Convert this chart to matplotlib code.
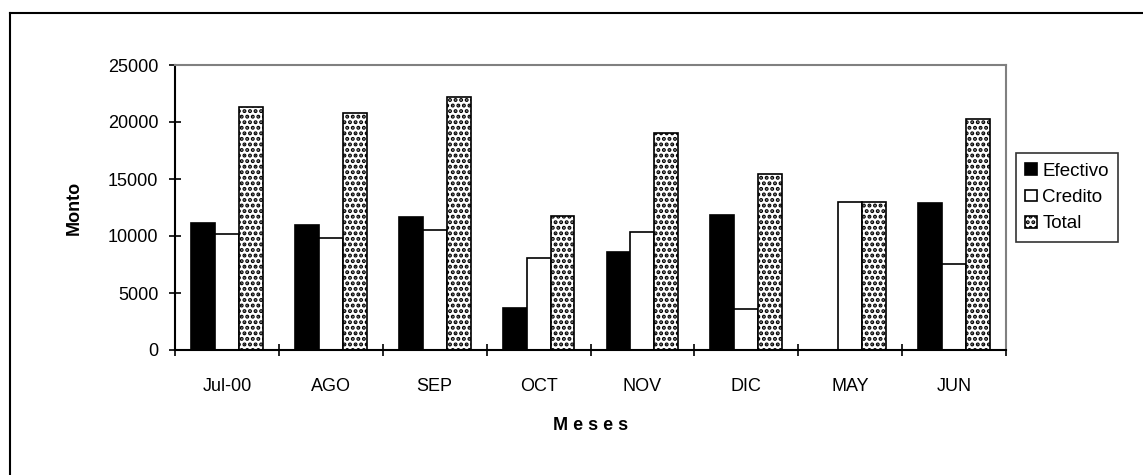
import numpy as np
import matplotlib.pyplot as plt
from matplotlib.lines import Line2D

plt.rcParams['font.family'] = ['Liberation Sans', 'DejaVu Sans']
plt.rcParams['hatch.linewidth'] = 2.0

meses = ["Jul-00", "AGO", "SEP", "OCT", "NOV", "DIC", "MAY", "JUN"]
efectivo = [11100, 10930, 11640, 3700, 8600, 11810, 0, 12870]
credito = [10160, 9810, 10520, 8050, 10370, 3640, 13010, 7550]
total = [21300, 20800, 22180, 11780, 19040, 15480, 13010, 20280]

fig = plt.figure(figsize=(11.43, 4.75), dpi=100)
ax = fig.add_axes([175 / 1143, 1 - 350 / 475, 831 / 1143, 285 / 475])

x = np.arange(len(meses))
w = 0.23
ax.bar(x - w, efectivo, w, color="black", edgecolor="black", linewidth=1.2, label="Efectivo")
ax.bar(x, credito, w, color="white", edgecolor="black", linewidth=1.2, label="Credito")
ax.bar(x + w, total, w, color="white", edgecolor="black", linewidth=1.2,
       hatch="...", label="Total")

ax.set_xlim(-0.5, len(meses) - 0.5)
ax.set_ylim(0, 25000)
ax.set_yticks(np.arange(0, 25001, 5000))
ax.set_xticks(x)
ax.set_xticklabels(meses)
ax.set_xticks(np.arange(-0.5, len(meses)), minor=True)
ax.tick_params(axis="x", which="major", length=0, pad=20, labelsize=13)
ax.tick_params(axis="x", which="minor", length=8, direction="inout", width=1.2)
ax.tick_params(axis="y", length=8, direction="inout", width=1.2, labelsize=13, pad=8)

for s in ["top", "right"]:
    ax.spines[s].set_color("gray")
    ax.spines[s].set_linewidth(1.5)
for s in ["left", "bottom"]:
    ax.spines[s].set_linewidth(1.5)

ax.set_ylabel("Monto", fontsize=13, fontweight="bold", labelpad=18)
ax.set_xlabel("M e s e s", fontsize=13, fontweight="bold", labelpad=16)

leg = ax.legend(loc="upper left", bbox_to_anchor=(1.012, 0.69), fontsize=13.5,
                frameon=True, fancybox=False, edgecolor="black",
                handlelength=0.6, handleheight=0.6, handletextpad=0.3,
                labelspacing=0.5, borderpad=0.5, borderaxespad=0)
leg.get_frame().set_linewidth(1.2)

# marco exterior
fig.add_artist(Line2D([9.5 / 1143, 9.5 / 1143], [0, 1 - 12.5 / 475], color="black", lw=1.5))
fig.add_artist(Line2D([9.5 / 1143, 1], [1 - 12.5 / 475, 1 - 12.5 / 475], color="black", lw=1.5))

plt.savefig("out.png", dpi=100)
